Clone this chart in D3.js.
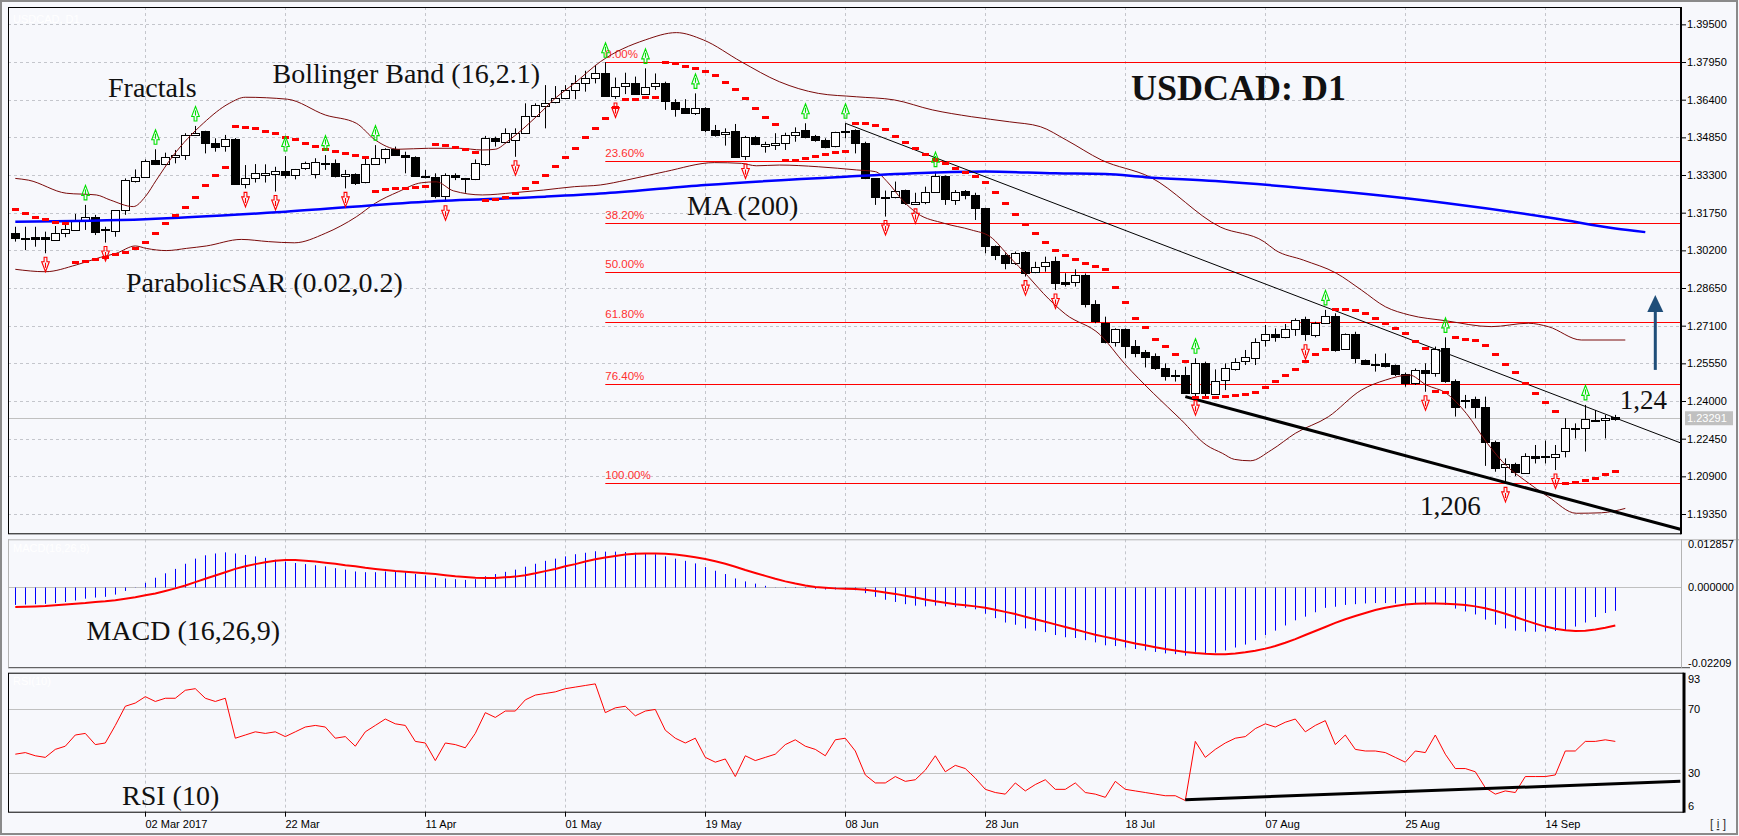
<!DOCTYPE html>
<html><head><meta charset="utf-8">
<script src="https://cdn.jsdelivr.net/npm/d3@7"></script>
<style>
html,body{margin:0;padding:0;background:#f7f8fc;}
svg{display:block;}
</style></head><body>
<svg id="chart" width="1739" height="836"></svg>
<script>
// ---------- DATA (USDCAD daily, 2017) ----------
const dates = [
"02-13","02-14","02-15","02-16","02-17","02-20","02-21","02-22","02-23","02-24","02-27","02-28","03-01",
"03-02","03-03","03-06","03-07","03-08","03-09","03-10","03-13","03-14","03-15",
"03-16","03-17","03-20","03-21","03-22","03-23","03-24","03-27","03-28","03-29",
"03-30","03-31","04-03","04-04","04-05","04-06","04-07","04-10","04-11","04-12",
"04-13","04-14","04-17","04-18","04-19","04-20","04-21","04-24","04-25","04-26",
"04-27","04-28","05-01","05-02","05-03","05-04","05-05","05-08","05-09","05-10",
"05-11","05-12","05-15","05-16","05-17","05-18","05-19","05-22","05-23","05-24",
"05-25","05-26","05-29","05-30","05-31","06-01","06-02","06-05","06-06","06-07",
"06-08","06-09","06-12","06-13","06-14","06-15","06-16","06-19","06-20","06-21",
"06-22","06-23","06-26","06-27","06-28","06-29","06-30","07-03","07-04","07-05",
"07-06","07-07","07-10","07-11","07-12","07-13","07-14","07-17","07-18","07-19",
"07-20","07-21","07-24","07-25","07-26","07-27","07-28","07-31","08-01","08-02",
"08-03","08-04","08-07","08-08","08-09","08-10","08-11","08-14","08-15","08-16",
"08-17","08-18","08-21","08-22","08-23","08-24","08-25","08-28","08-29","08-30",
"08-31","09-01","09-04","09-05","09-06","09-07","09-08","09-11","09-12","09-13",
"09-14","09-15","09-18","09-19","09-20","09-21","09-22","09-25"];

const open = [
1.3090,1.3069,1.3074,1.3074,1.3065,1.3090,1.3104,1.3148,1.3159,1.3100,1.3097,1.3186,1.3307,
1.3323,1.3392,1.3374,1.3403,1.3411,1.3495,1.3511,1.3463,1.3447,1.3480,
1.3296,1.3319,1.3330,1.3337,1.3348,1.3330,1.3357,1.3334,1.3379,1.3378,
1.3327,1.3333,1.3300,1.3375,1.3399,1.3436,1.3412,1.3405,1.3326,1.3323,
1.3245,1.3330,1.3316,1.3312,1.3378,1.3484,1.3467,1.3477,1.3504,1.3573,
1.3617,1.3628,1.3646,1.3680,1.3707,1.3728,1.3748,1.3659,1.3696,1.3710,
1.3666,1.3696,1.3707,1.3632,1.3604,1.3584,1.3604,1.3515,1.3499,1.3511,
1.3408,1.3485,1.3449,1.3453,1.3463,1.3495,1.3515,1.3491,1.3474,1.3447,
1.3506,1.3515,1.3460,1.3316,1.3241,1.3241,1.3268,1.3211,1.3220,1.3262,
1.3326,1.3231,1.3266,1.3248,1.3193,1.3038,1.3001,1.2967,1.3015,1.2932,
1.2956,1.2976,1.2891,1.2887,1.2919,1.2800,1.2722,1.2640,1.2695,1.2626,
1.2602,1.2585,1.2534,1.2506,1.2506,1.2432,1.2555,1.2432,1.2484,1.2534,
1.2562,1.2580,1.2651,1.2674,1.2662,1.2695,1.2736,1.2672,1.2722,1.2750,
1.2613,1.2676,1.2569,1.2552,1.2558,1.2548,1.2511,1.2475,1.2528,1.2515,
1.2617,1.2484,1.2404,1.2407,1.2374,1.2233,1.2127,1.2139,1.2105,1.2175,
1.2174,1.2171,1.2192,1.2285,1.2288,1.2322,1.2322,1.2336];
const high = [
1.3117,1.3117,1.3117,1.3097,1.3120,1.3129,1.3170,1.3207,1.3166,1.3117,1.3186,1.3316,1.3353,
1.3394,1.3436,1.3422,1.3433,1.3502,1.3532,1.3512,1.3481,1.3495,1.3482,
1.3371,1.3375,1.3374,1.3364,1.3408,1.3355,1.3385,1.3399,1.3412,1.3394,
1.3351,1.3337,1.3399,1.3453,1.3440,1.3447,1.3426,1.3407,1.3351,1.3337,
1.3337,1.3337,1.3318,1.3394,1.3491,1.3488,1.3522,1.3522,1.3625,1.3625,
1.3700,1.3696,1.3700,1.3741,1.3759,1.3783,1.3794,1.3731,1.3751,1.3735,
1.3769,1.3748,1.3714,1.3642,1.3642,1.3666,1.3609,1.3536,1.3522,1.3540,
1.3491,1.3491,1.3467,1.3502,1.3504,1.3526,1.3543,1.3495,1.3481,1.3508,
1.3543,1.3518,1.3467,1.3316,1.3266,1.3303,1.3270,1.3257,1.3282,1.3344,
1.3328,1.3268,1.3268,1.3257,1.3195,1.3040,1.3008,1.3015,1.3017,1.2973,
1.2994,1.2994,1.2926,1.2942,1.2925,1.2815,1.2747,1.2699,1.2699,1.2651,
1.2610,1.2596,1.2555,1.2528,1.2541,1.2576,1.2562,1.2530,1.2555,1.2576,
1.2610,1.2658,1.2713,1.2699,1.2717,1.2740,1.2747,1.2726,1.2775,1.2761,
1.2678,1.2685,1.2571,1.2594,1.2596,1.2550,1.2517,1.2534,1.2555,1.2624,
1.2662,1.2489,1.2425,1.2418,1.2418,1.2237,1.2164,1.2146,1.2185,1.2219,
1.2237,1.2219,1.2329,1.2308,1.2384,1.2363,1.2343,1.2343];
const low = [
1.3056,1.3021,1.3035,1.3008,1.3060,1.3074,1.3100,1.3104,1.3083,1.3052,1.3076,1.3166,1.3299,
1.3320,1.3371,1.3370,1.3378,1.3392,1.3491,1.3419,1.3426,1.3426,1.3290,
1.3275,1.3299,1.3299,1.3262,1.3316,1.3312,1.3351,1.3316,1.3351,1.3320,
1.3275,1.3289,1.3296,1.3371,1.3378,1.3410,1.3337,1.3323,1.3316,1.3234,
1.3220,1.3309,1.3257,1.3309,1.3368,1.3447,1.3460,1.3405,1.3502,1.3570,
1.3522,1.3625,1.3643,1.3642,1.3673,1.3707,1.3652,1.3643,1.3663,1.3663,
1.3663,1.3680,1.3598,1.3570,1.3582,1.3577,1.3506,1.3488,1.3451,1.3401,
1.3392,1.3453,1.3422,1.3433,1.3433,1.3467,1.3481,1.3467,1.3440,1.3444,
1.3481,1.3419,1.3313,1.3207,1.3159,1.3234,1.3207,1.3207,1.3210,1.3257,
1.3207,1.3207,1.3230,1.3145,1.3008,1.2980,1.2942,1.2960,1.2912,1.2926,
1.2932,1.2857,1.2871,1.2871,1.2785,1.2720,1.2637,1.2624,1.2576,1.2580,
1.2538,1.2528,1.2484,1.2480,1.2429,1.2418,1.2418,1.2429,1.2445,1.2525,
1.2548,1.2548,1.2624,1.2644,1.2658,1.2668,1.2648,1.2662,1.2717,1.2603,
1.2610,1.2555,1.2548,1.2521,1.2538,1.2503,1.2459,1.2466,1.2438,1.2500,
1.2475,1.2336,1.2370,1.2329,1.2133,1.2109,1.2061,1.2091,1.2100,1.2143,
1.2143,1.2116,1.2168,1.2246,1.2192,1.2319,1.2246,1.2319];
const close = [
1.3069,1.3068,1.3067,1.3065,1.3093,1.3106,1.3145,1.3159,1.3097,1.3106,1.3184,1.3309,1.3323,
1.3389,1.3374,1.3403,1.3411,1.3495,1.3504,1.3460,1.3447,1.3477,1.3293,
1.3319,1.3340,1.3337,1.3348,1.3333,1.3353,1.3378,1.3382,1.3378,1.3323,
1.3334,1.3296,1.3374,1.3399,1.3436,1.3412,1.3405,1.3327,1.3320,1.3245,
1.3330,1.3323,1.3312,1.3378,1.3484,1.3470,1.3504,1.3504,1.3573,1.3618,
1.3628,1.3646,1.3680,1.3707,1.3728,1.3748,1.3655,1.3694,1.3710,1.3666,
1.3694,1.3707,1.3632,1.3604,1.3584,1.3604,1.3512,1.3495,1.3508,1.3405,
1.3485,1.3458,1.3458,1.3463,1.3495,1.3508,1.3488,1.3474,1.3447,1.3506,
1.3512,1.3460,1.3316,1.3238,1.3240,1.3266,1.3216,1.3220,1.3262,1.3326,
1.3230,1.3262,1.3248,1.3193,1.3038,1.3001,1.2967,1.3008,1.2928,1.2953,
1.2973,1.2884,1.2884,1.2917,1.2800,1.2730,1.2644,1.2695,1.2624,1.2599,
1.2582,1.2534,1.2503,1.2505,1.2432,1.2555,1.2432,1.2484,1.2534,1.2562,
1.2580,1.2644,1.2674,1.2661,1.2695,1.2733,1.2676,1.2722,1.2750,1.2610,
1.2676,1.2576,1.2552,1.2551,1.2545,1.2511,1.2475,1.2528,1.2515,1.2613,
1.2480,1.2377,1.2403,1.2374,1.2229,1.2127,1.2139,1.2105,1.2175,1.2168,
1.2168,1.2182,1.2288,1.2288,1.2325,1.2322,1.2329,1.23291];

// Parabolic SAR (0.02,0.2), one value per bar
const sar = [
1.3189,1.3172,1.3159,1.3149,1.3138,1.3131,1.2971,1.2976,1.2983,1.2994,1.3005,1.3015,1.3028,
1.3053,1.3090,1.3131,1.3166,1.3200,1.3241,1.3289,1.3330,1.3362,1.3533,
1.3529,1.3522,1.3512,1.3502,1.3488,1.3477,1.3460,1.3449,1.3437,1.3429,
1.3419,1.3411,1.3403,1.3266,1.3271,1.3275,1.3278,1.3282,1.3285,1.3458,
1.3452,1.3447,1.3436,1.3426,1.3227,1.3230,1.3241,1.3257,1.3275,1.3303,
1.3330,1.3367,1.3403,1.3441,1.3485,1.3522,1.3563,1.3609,1.3642,1.3643,
1.3650,1.3652,1.3794,1.3790,1.3780,1.3769,1.3758,1.3740,1.3713,1.3685,
1.3647,1.3604,1.3567,1.3538,1.3391,1.3393,1.3398,1.3409,1.3417,1.3423,
1.3430,1.3545,1.3543,1.3536,1.3519,1.3490,1.3465,1.3441,1.3415,1.3394,
1.3378,1.3360,1.3344,1.3326,1.3300,1.3262,1.3215,1.3170,1.3130,1.3090,
1.3055,1.3022,1.3000,1.2983,1.2967,1.2955,1.2942,1.2868,1.2806,1.2743,
1.2703,1.2654,1.2625,1.2595,1.2565,1.2418,1.2418,1.2418,1.2421,1.2423,
1.2429,1.2438,1.2456,1.2484,1.2507,1.2530,1.2565,1.2592,1.2615,1.2777,
1.2777,1.2773,1.2761,1.2740,1.2720,1.2699,1.2678,1.2648,1.2617,1.2441,
1.2438,1.2662,1.2656,1.2650,1.2630,1.2595,1.2552,1.2519,1.2473,1.2433,
1.2395,1.2360,1.2061,1.2067,1.2075,1.2084,1.2098,1.2112];

// Fractals (bar positions in dates[])
const fractalUp = [7,14,18,27,31,36,59,63,68,79,83,92,118,131,143,157];
const fractalDown = [3,9,23,26,33,43,50,60,73,87,90,101,104,118,129,141,149,154];

// MA(200) read at sample bars [position, price]
const ma200 = [[0,1.3138],[13,1.3148],[27,1.3179],[41,1.3220],[53,1.3241],[59,1.3255],[69,1.3289],[83,1.3323],[92,1.3340],[97,1.3344],[104,1.3337],[109,1.3334],[113,1.3321],[120,1.3305],[132,1.3264],[143,1.3215],[154,1.3151],[160,1.3110],[163,1.3095]];

// Bollinger Bands (16,2.1) read at sample positions
const bbUpper = [[0,1.3316],[1.3,1.3309],[5.1,1.3255],[8.1,1.3248],[9.5,1.3227],[11.8,1.3200],[13,1.3241],[14.1,1.3309],[15.7,1.3405],[18.8,1.3543],[21.4,1.3625],[23,1.3650],[27.2,1.3642],[31,1.3577],[34.1,1.3543],[36,1.3474],[38.3,1.3436],[41.3,1.3440],[44.4,1.3440],[46.7,1.3433],[48,1.3436],[49.4,1.3474],[52.1,1.3570],[54,1.3646],[55.9,1.3707],[58.5,1.3796],[63,1.3886],[66.1,1.3916],[68.8,1.3886],[72.6,1.3796],[76.4,1.3714],[80.3,1.3666],[84.1,1.3652],[87.9,1.3639],[91.7,1.3598],[95.6,1.3570],[99.4,1.3549],[102.5,1.3529],[105.1,1.3474],[108.6,1.3392],[113.5,1.3321],[120.5,1.3116],[124.9,1.3055],[126,1.3021],[128.8,1.2980],[132.1,1.2926],[134.6,1.2857],[137,1.2788],[139.4,1.2754],[143.1,1.2730],[147.6,1.2706],[151.3,1.2720],[153.3,1.2706],[156.6,1.2651],[161,1.2651]];
const bbLower = [[0,1.2942],[3,1.2932],[6.1,1.2960],[8.5,1.2991],[10.1,1.3008],[12,1.3038],[13.1,1.3028],[15.1,1.3019],[17.1,1.3028],[19.1,1.3038],[22.6,1.3065],[25.3,1.3056],[27.9,1.3051],[31,1.3090],[34.1,1.3158],[36,1.3214],[38.3,1.3261],[40.6,1.3298],[42.1,1.3302],[43.8,1.3265],[46.7,1.3248],[49.8,1.3257],[52.8,1.3268],[55.9,1.3282],[58.5,1.3289],[61.1,1.3309],[65,1.3344],[69.9,1.3381],[72.6,1.3378],[74.1,1.3368],[76.4,1.3371],[80.3,1.3364],[84.1,1.3351],[86,1.3344],[87.2,1.3302],[88.7,1.3227],[90.2,1.3172],[92.9,1.3131],[95.6,1.3104],[97.5,1.3076],[99.4,1.2994],[101.3,1.2912],[102.8,1.2843],[105,1.2758],[108.5,1.2672],[110.9,1.2555],[113.8,1.2432],[116.6,1.2322],[119.1,1.2219],[120.7,1.2185],[121.9,1.2160],[123.5,1.2154],[125.6,1.2198],[128,1.2267],[131.3,1.2335],[134.6,1.2445],[137,1.2486],[139.4,1.2507],[141.1,1.2466],[143.1,1.2432],[145.1,1.2349],[147.2,1.2226],[149.2,1.2130],[150.9,1.2075],[153.3,1.2006],[156.1,1.1938],[158.6,1.1940],[161,1.1958]];

// Fibonacci retracement (from 05 May high to 08 Sep low)
const fibStart = 59;
const fibLabels = ["0.00%","23.60%","38.20%","50.00%","61.80%","76.40%","100.00%"];
const fibPrices = [1.3796,1.3387,1.3133,1.2929,1.2724,1.2471,1.2061];

// Trend lines [position, value]
const trendUpper = [[83,1.3543],[166.5,1.2228]];
const trendLower = [[117,1.2418],[166.5,1.1872]];
const rsiTrend = [[117,13.5],[166.5,25]];

// MACD (16,26,9): histogram (main) and signal
const macd = [
-0.0050,-0.0049,-0.0048,-0.0047,-0.0045,-0.0042,-0.0038,-0.0033,-0.0030,-0.0028,-0.0022,-0.0012,-0.0002,
0.0010,0.0024,0.0036,0.0048,0.0062,0.0076,0.0085,0.0090,0.0093,0.0090,
0.0086,0.0082,0.0078,0.0073,0.0068,0.0064,0.0061,0.0058,0.0055,0.0050,
0.0046,0.0041,0.0039,0.0039,0.0041,0.0041,0.0039,0.0034,0.0030,0.0024,
0.0022,0.0020,0.0018,0.0020,0.0028,0.0034,0.0040,0.0046,0.0054,0.0062,
0.0070,0.0076,0.0082,0.0088,0.0092,0.0096,0.0095,0.0095,0.0094,0.0092,
0.0090,0.0088,0.0082,0.0076,0.0070,0.0063,0.0053,0.0043,0.0034,0.0022,
0.0014,0.0008,0.0002,-0.0002,-0.0004,-0.0004,-0.0004,-0.0006,-0.0008,-0.0008,
-0.0008,-0.0010,-0.0018,-0.0028,-0.0036,-0.0042,-0.0048,-0.0052,-0.0054,-0.0052,
-0.0054,-0.0056,-0.0058,-0.0062,-0.0074,-0.0086,-0.0098,-0.0104,-0.0114,-0.0120,
-0.0124,-0.0132,-0.0138,-0.0140,-0.0146,-0.0152,-0.0160,-0.0162,-0.0166,-0.0170,
-0.0174,-0.0178,-0.0182,-0.0184,-0.0188,-0.0184,-0.0184,-0.0180,-0.0174,-0.0166,
-0.0158,-0.0146,-0.0132,-0.0120,-0.0106,-0.0092,-0.0082,-0.0070,-0.0058,-0.0055,
-0.0050,-0.0048,-0.0046,-0.0045,-0.0045,-0.0046,-0.0048,-0.0048,-0.0049,-0.0045,
-0.0050,-0.0060,-0.0068,-0.0076,-0.0090,-0.0104,-0.0114,-0.0120,-0.0123,-0.0123,
-0.0122,-0.0121,-0.0120,-0.0109,-0.0098,-0.0083,-0.0072,-0.0066];
const macdSignal = [
-0.0056,-0.0055,-0.0054,-0.0053,-0.0051,-0.0049,-0.0047,-0.0045,-0.0042,-0.0040,-0.0037,-0.0033,-0.0029,
-0.0024,-0.0019,-0.0012,-0.0005,0.0003,0.0012,0.0021,0.0030,0.0039,0.0048,
0.0055,0.0061,0.0066,0.0070,0.0072,0.0072,0.0070,0.0068,0.0065,0.0062,
0.0058,0.0055,0.0051,0.0048,0.0045,0.0042,0.0040,0.0038,0.0036,0.0034,
0.0031,0.0028,0.0026,0.0024,0.0023,0.0023,0.0025,0.0027,0.0031,0.0036,
0.0042,0.0048,0.0055,0.0061,0.0068,0.0074,0.0079,0.0083,0.0087,0.0089,
0.0090,0.0090,0.0089,0.0087,0.0084,0.0080,0.0075,0.0069,0.0062,0.0054,
0.0045,0.0037,0.0029,0.0021,0.0014,0.0008,0.0003,-0.0001,-0.0003,-0.0005,
-0.0006,-0.0007,-0.0009,-0.0012,-0.0016,-0.0020,-0.0025,-0.0030,-0.0035,-0.0040,
-0.0044,-0.0048,-0.0051,-0.0054,-0.0058,-0.0063,-0.0069,-0.0075,-0.0082,-0.0089,
-0.0096,-0.0103,-0.0110,-0.0117,-0.0124,-0.0131,-0.0137,-0.0143,-0.0149,-0.0155,
-0.0160,-0.0165,-0.0170,-0.0174,-0.0178,-0.0181,-0.0183,-0.0184,-0.0184,-0.0182,
-0.0179,-0.0175,-0.0169,-0.0162,-0.0153,-0.0143,-0.0132,-0.0121,-0.0110,-0.0099,
-0.0089,-0.0080,-0.0072,-0.0064,-0.0058,-0.0053,-0.0049,-0.0047,-0.0046,-0.0046,
-0.0047,-0.0048,-0.0050,-0.0054,-0.0059,-0.0066,-0.0074,-0.0083,-0.0092,-0.0101,
-0.0109,-0.0115,-0.0119,-0.0121,-0.0120,-0.0117,-0.0112,-0.0106];

// RSI(10)
const rsi = [
42,43,41,40,45,47,54,55,48,49,60,72,74,
78,75,77,77,82,83,77,75,77,52,
54,56,55,56,53,56,59,60,59,52,
53,47,56,60,64,61,60,50,49,38,
49,48,46,55,68,65,69,69,76,79,
80,81,83,84,85,86,68,71,72,66,
69,70,57,52,49,52,40,37,39,28,
41,38,40,42,48,51,47,45,41,51,
52,44,29,24,24,28,25,26,32,41,
31,35,33,27,20,18,17,24,19,23,
26,20,20,24,18,17,15,25,20,19,
18,17,16,16,13,50,40,45,49,52,
53,58,61,59,62,64,56,60,63,48,
54,45,44,44,43,40,37,44,43,54,
42,33,33,31,21,17,19,18,28,28,
28,29,44,44,50,50,51,50];

// Axis ticks
const priceTicks = [1.395,1.3795,1.364,1.3485,1.333,1.3175,1.302,1.2865,1.271,1.2555,1.24,1.2245,1.209,1.1935];
const lastPrice = 1.23291;
const macdTicks = [0.012857,0,-0.02209];
const macdTickLabels = ["0.012857","0.000000","-0.02209"];
const rsiTicks = [93,70,30,6];
const rsiLevels = [70,30];
const dateTicks = ["03-02","03-22","04-11","05-01","05-19","06-08","06-28","07-18","08-07","08-25","09-14"];
const dateTickLabels = ["02 Mar 2017","22 Mar","11 Apr","01 May","19 May","08 Jun","28 Jun","18 Jul","07 Aug","25 Aug","14 Sep"];

// ---------- DRAWING ----------
const W = 1739, H = 836;
const svg = d3.select("#chart");
const SANS = "'Liberation Sans', Arial, sans-serif";
const SERIF = "'Liberation Serif', 'Times New Roman', serif";

const MAIN = {l:8, r:1681, t:7, b:533.3};
const MP = {t:539.3, b:667.7};
const RP = {t:672.7, b:811.7};

const x = d3.scaleLinear().domain([0, dates.length - 1]).range([15.3, 1615.3]);
const px = i => Math.round(x(i)) + 0.5;
const y = d3.scaleLinear().domain([1.18556, 1.40214]).range([MAIN.b, MAIN.t]);
const ym = d3.scaleLinear().domain([-0.02209, 0.012857]).range([MP.b, MP.t]);
const yr = d3.scaleLinear().domain([6, 93]).range([RP.b, RP.t]);

svg.append("rect").attr("width", W).attr("height", H).attr("fill", "#f7f8fc");

const defs = svg.append("defs");
function clip(id, x0, y0, x1, y1) {
  defs.append("clipPath").attr("id", id).append("rect")
    .attr("x", x0).attr("y", y0).attr("width", x1 - x0).attr("height", y1 - y0);
  return "url(#" + id + ")";
}
const cMain = clip("cMain", MAIN.l, MAIN.t, MAIN.r, MAIN.b);
const cMacd = clip("cMacd", MAIN.l, MP.t, MAIN.r, MP.b);
const cRsi = clip("cRsi", MAIN.l, RP.t, MAIN.r + 2, RP.b);

const tickIdx = dateTicks.map(d => dates.indexOf(d));

// ---- grids ----
const grid = svg.append("g").attr("stroke", "#c4c6cc").attr("stroke-dasharray", "3,3").attr("stroke-width", 1);
[[MAIN.t, MAIN.b], [MP.t, MP.b], [RP.t, RP.b]].forEach(([t, b]) => {
  grid.selectAll(null).data(tickIdx).enter().append("line")
    .attr("x1", d => px(d)).attr("x2", d => px(d)).attr("y1", t).attr("y2", b);
});
grid.selectAll(null).data(priceTicks).enter().append("line")
  .attr("x1", MAIN.l).attr("x2", MAIN.r).attr("y1", d => Math.round(y(d)) + 0.5).attr("y2", d => Math.round(y(d)) + 0.5);

// ---- main panel ----
const gm = svg.append("g").attr("clip-path", cMain);

gm.append("line").attr("x1", MAIN.l).attr("x2", MAIN.r)
  .attr("y1", Math.round(y(lastPrice)) + 0.5).attr("y2", Math.round(y(lastPrice)) + 0.5)
  .attr("stroke", "#c0c0c0");

gm.selectAll(null).data(fibPrices).enter().append("line")
  .attr("x1", x(fibStart)).attr("x2", MAIN.r)
  .attr("y1", d => Math.round(y(d)) + 0.5).attr("y2", d => Math.round(y(d)) + 0.5)
  .attr("stroke", "#ff0000").attr("stroke-width", 1);
gm.selectAll(null).data(fibPrices).enter().append("text")
  .attr("x", x(fibStart)).attr("y", d => y(d) - 4)
  .attr("font-family", SANS).attr("font-size", 11.5).attr("fill", "#ff3030")
  .text((d, i) => fibLabels[i]);

const candles = dates.map((d, i) => ({i, o: open[i], h: high[i], l: low[i], c: close[i]}));
gm.selectAll(null).data(candles).enter().append("line")
  .attr("x1", d => px(d.i)).attr("x2", d => px(d.i))
  .attr("y1", d => y(d.h)).attr("y2", d => y(d.l))
  .attr("stroke", "#000").attr("stroke-width", 1);
gm.selectAll(null).data(candles).enter().append("rect")
  .attr("x", d => px(d.i) - 4).attr("width", 8)
  .attr("y", d => Math.round(y(Math.max(d.o, d.c))) + 0.5)
  .attr("height", d => Math.max(1, Math.round(Math.abs(y(d.o) - y(d.c)))))
  .attr("fill", d => d.c >= d.o ? "#ffffff" : "#000000")
  .attr("stroke", "#000").attr("stroke-width", 1);

const lineBar = d3.line().x(d => x(d[0])).y(d => y(d[1])).curve(d3.curveMonotoneX);
gm.append("path").attr("d", lineBar(bbUpper)).attr("fill", "none").attr("stroke", "#7a0a0a").attr("stroke-width", 1);
gm.append("path").attr("d", lineBar(bbLower)).attr("fill", "none").attr("stroke", "#7a0a0a").attr("stroke-width", 1);

gm.append("path").attr("d", lineBar(ma200)).attr("fill", "none").attr("stroke", "#0000ff").attr("stroke-width", 2.5);

const lineStraight = d3.line().x(d => x(d[0])).y(d => y(d[1]));
gm.append("path").attr("d", lineStraight(trendUpper)).attr("stroke", "#000").attr("stroke-width", 1).attr("fill", "none");
gm.append("path").attr("d", lineStraight(trendLower)).attr("stroke", "#000").attr("stroke-width", 3).attr("fill", "none");

gm.selectAll(null).data(sar).enter().append("rect")
  .attr("x", (d, i) => px(i) - 3.5).attr("y", d => Math.round(y(d)) - 1)
  .attr("width", 7).attr("height", 3).attr("fill", "#ff0000");

// fractal glyphs (outlined "A" / "V" arrows)
const upArrow = "M0,0 L3.8,10 L1.4,10 L1.4,14.5 L-1.4,14.5 L-1.4,10 L-3.8,10 Z M0,4 L0,9";
const downArrow = "M0,14.5 L3.8,4.5 L1.4,4.5 L1.4,0 L-1.4,0 L-1.4,4.5 L-3.8,4.5 Z M0,5.5 L0,10.5";
gm.selectAll(null).data(fractalUp).enter().append("path")
  .attr("d", upArrow)
  .attr("transform", i => `translate(${px(i)},${y(high[i]) - 19.5})`)
  .attr("fill", "none").attr("stroke", "#00e000").attr("stroke-width", 1.1);
gm.selectAll(null).data(fractalDown).enter().append("path")
  .attr("d", downArrow)
  .attr("transform", i => `translate(${px(i)},${y(low[i]) + 4})`)
  .attr("fill", "none").attr("stroke", "#ff0000").attr("stroke-width", 1.1);

// target arrow
const arrowBar = 164, arrowFrom = 1.2528, arrowTo = 1.2836;
gm.append("rect").attr("x", x(arrowBar) - 1.5).attr("y", y(arrowTo) + 12)
  .attr("width", 3).attr("height", y(arrowFrom) - y(arrowTo) - 12).attr("fill", "#1f4e79");
gm.append("path")
  .attr("d", `M${x(arrowBar)},${y(arrowTo)} L${x(arrowBar) + 8},${y(arrowTo) + 17} L${x(arrowBar) - 8},${y(arrowTo) + 17} Z`)
  .attr("fill", "#1f4e79");

// annotations
const ann = svg.append("g").attr("font-family", SERIF).attr("fill", "#111");
[["Fractals", 108, 96.5], ["Bollinger Band (16,2.1)", 272.5, 82.5], ["ParabolicSAR (0.02,0.2)", 126, 291.5],
 ["MA (200)", 687, 215], ["MACD (16,26,9)", 86.5, 640], ["RSI (10)", 122, 805]].forEach(([t, xx, yy]) => {
  ann.append("text").attr("x", xx).attr("y", yy).attr("font-size", 28).text(t);
});
ann.append("text").attr("x", x(162.8)).attr("y", y(1.2367)).attr("text-anchor", "middle").attr("font-size", 27).text("1,24");
ann.append("text").attr("x", x(143.5)).attr("y", y(1.1931)).attr("text-anchor", "middle").attr("font-size", 27).text("1,206");
ann.append("text").attr("x", 1131).attr("y", 100).attr("font-size", 36).attr("font-weight", "bold").text("USDCAD: D1");
svg.append("text").attr("x", 13).attr("y", 23).attr("font-family", SANS).attr("font-size", 11).attr("fill", "#ffffff").text("USDCAD, D1");
svg.append("text").attr("x", 13).attr("y", 552).attr("font-family", SANS).attr("font-size", 11).attr("fill", "#ffffff").text("MACD(16,26,9)");
svg.append("text").attr("x", 13).attr("y", 685).attr("font-family", SANS).attr("font-size", 11).attr("fill", "#ffffff").text("RSI(10)");

// main frame and axis
svg.append("rect").attr("x", MAIN.l + 0.5).attr("y", MAIN.t + 0.5).attr("width", MAIN.r - MAIN.l - 1).attr("height", MAIN.b - MAIN.t)
  .attr("fill", "none").attr("stroke", "#000");
svg.append("line").attr("x1", MAIN.r).attr("x2", MAIN.r).attr("y1", MAIN.t).attr("y2", MAIN.b + 1).attr("stroke", "#000").attr("stroke-width", 2);
const yAxis = svg.append("g").attr("transform", `translate(${MAIN.r},0)`)
  .call(d3.axisRight(y).tickValues(priceTicks).tickFormat(d3.format(".5f")).tickSize(5).tickPadding(1));
yAxis.select(".domain").remove();
yAxis.selectAll("text").attr("font-family", SANS).attr("font-size", 11).attr("fill", "#000");
yAxis.selectAll("line").attr("stroke", "#000");
svg.append("rect").attr("x", 1685).attr("y", y(lastPrice) - 7).attr("width", 48).attr("height", 14).attr("fill", "#c0c0c0");
svg.append("text").attr("x", 1687).attr("y", y(lastPrice) + 4).attr("font-family", SANS).attr("font-size", 11).attr("fill", "#ffffff")
  .text(d3.format(".5f")(lastPrice));

// ---- MACD panel ----
const gmc = svg.append("g").attr("clip-path", cMacd);
gmc.append("line").attr("x1", MAIN.l).attr("x2", MAIN.r).attr("y1", Math.round(ym(0)) + 0.5).attr("y2", Math.round(ym(0)) + 0.5).attr("stroke", "#c0c0c0");
gmc.selectAll(null).data(macd).enter().append("line")
  .attr("x1", (d, i) => px(i)).attr("x2", (d, i) => px(i))
  .attr("y1", Math.round(ym(0)) + 0.5).attr("y2", d => ym(d))
  .attr("stroke", "#0000ff").attr("stroke-width", 1);
gmc.append("path").attr("d", d3.line().x((d, i) => x(i)).y(d => ym(d))(macdSignal))
  .attr("fill", "none").attr("stroke", "#ff0000").attr("stroke-width", 2);
svg.append("line").attr("x1", MAIN.l).attr("x2", W).attr("y1", MP.t + 0.5).attr("y2", MP.t + 0.5).attr("stroke", "#b4b4b4");
svg.append("line").attr("x1", MAIN.l).attr("x2", 1690).attr("y1", MP.b).attr("y2", MP.b).attr("stroke", "#404040");
svg.append("line").attr("x1", MAIN.l + 0.5).attr("x2", MAIN.l + 0.5).attr("y1", MP.t).attr("y2", MP.b).attr("stroke", "#b4b4b4");
svg.append("line").attr("x1", MAIN.r + 0.5).attr("x2", MAIN.r + 0.5).attr("y1", MP.t).attr("y2", MP.b).attr("stroke", "#b4b4b4");
svg.selectAll(null).data(macdTicks).enter().append("text")
  .attr("x", 1688).attr("y", d => Math.min(Math.max(ym(d), MP.t + 5), MP.b - 5) + 4)
  .attr("font-family", SANS).attr("font-size", 11).attr("fill", "#000")
  .text((d, i) => macdTickLabels[i]);

// ---- RSI panel ----
const gr = svg.append("g").attr("clip-path", cRsi);
gr.selectAll(null).data(rsiLevels).enter().append("line")
  .attr("x1", MAIN.l).attr("x2", MAIN.r).attr("y1", d => Math.round(yr(d)) + 0.5).attr("y2", d => Math.round(yr(d)) + 0.5)
  .attr("stroke", "#c0c0c0");
gr.append("path").attr("d", d3.line().x((d, i) => x(i)).y(d => yr(d))(rsi))
  .attr("fill", "none").attr("stroke", "#ff0000").attr("stroke-width", 1);
gr.append("path").attr("d", d3.line().x(d => x(d[0])).y(d => yr(d[1]))(rsiTrend))
  .attr("fill", "none").attr("stroke", "#000").attr("stroke-width", 3);
svg.append("rect").attr("x", MAIN.l + 0.5).attr("y", RP.t + 0.5).attr("width", 1675).attr("height", RP.b - RP.t)
  .attr("fill", "none").attr("stroke", "#000");
svg.append("line").attr("x1", 1684).attr("x2", 1684).attr("y1", RP.t).attr("y2", RP.b + 1).attr("stroke", "#000").attr("stroke-width", 3);
svg.selectAll(null).data(rsiTicks).enter().append("text")
  .attr("x", 1688).attr("y", d => Math.min(Math.max(yr(d), RP.t + 6), RP.b - 6) + 4)
  .attr("font-family", SANS).attr("font-size", 11).attr("fill", "#000").text(d => d);

// ---- date axis ----
const xAxis = svg.append("g").attr("transform", `translate(0,${RP.b})`)
  .call(d3.axisBottom(x).tickValues(tickIdx).tickSize(5).tickFormat((d, i) => dateTickLabels[i]));
xAxis.select(".domain").remove();
xAxis.selectAll(".tick").attr("transform", d => `translate(${px(d)},0)`);
xAxis.selectAll("line").attr("stroke", "#000");
xAxis.selectAll("text").attr("text-anchor", "start").attr("x", 0).attr("dy", 0).attr("y", 16.5)
  .attr("font-family", SANS).attr("font-size", 11).attr("fill", "#000");
const info = svg.append("text").attr("x", 1710).attr("y", 828).attr("font-family", SANS).attr("font-size", 12).attr("fill", "#333");
info.append("tspan").text("[ ");
info.append("tspan").attr("text-decoration", "underline").text("i");
info.append("tspan").text(" ]");

svg.append("rect").attr("x", 1).attr("y", 1).attr("width", W - 3).attr("height", H - 3)
  .attr("fill", "none").attr("stroke", "#8a8a8a").attr("stroke-width", 2);
</script>
</body></html>
